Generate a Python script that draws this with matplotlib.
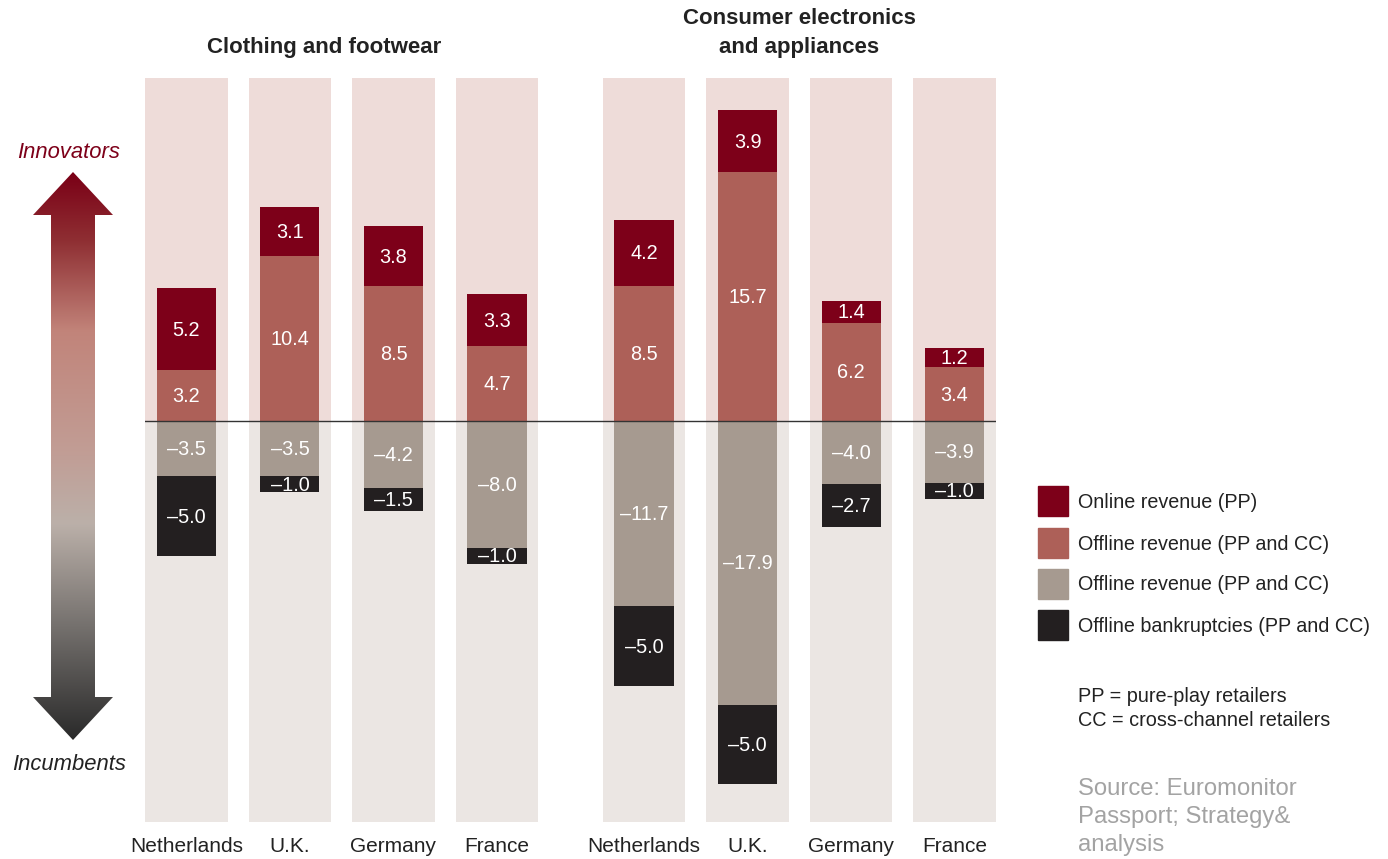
import matplotlib
matplotlib.use("Agg")
import matplotlib.pyplot as plt
import numpy as np
from matplotlib.colors import LinearSegmentedColormap
from matplotlib.patches import Polygon

plt.rcParams['font.family'] = ['Liberation Sans', 'DejaVu Sans']

# ---------------- data ----------------
groups = ["Clothing and footwear", "Consumer electronics\nand appliances"]
countries = ["Netherlands", "U.K.", "Germany", "France",
             "Netherlands", "U.K.", "Germany", "France"]
online_pp = [5.2, 3.1, 3.8, 3.3, 4.2, 3.9, 1.4, 1.2]
offline_pos = [3.2, 10.4, 8.5, 4.7, 8.5, 15.7, 6.2, 3.4]
offline_neg = [-3.5, -3.5, -4.2, -8.0, -11.7, -17.9, -4.0, -3.9]
bankruptcies = [-5.0, -1.0, -1.5, -1.0, -5.0, -5.0, -2.7, -1.0]
legend_labels = ["Online revenue (PP)", "Offline revenue (PP and CC)",
                 "Offline revenue (PP and CC)", "Offline bankruptcies (PP and CC)"]

# ---------------- style ----------------
C_ONLINE = "#7d0019"
C_OFFPOS = "#ad6058"
C_OFFNEG = "#a69a90"
C_BANK = "#231f20"
BG_TOP = "#eedcd9"
BG_BOT = "#ebe6e3"
TXT = "#222222"

W, H = 1388, 859
fig = plt.figure(figsize=(W / 100, H / 100), dpi=100)

x = [0, 1, 2, 3, 4.42, 5.42, 6.42, 7.42]
Y_TOP, Y_BOT = 21.64, -25.3
X_MIN, X_MAX = -0.4, 7.82

ax = fig.add_axes([145 / W, (H - 822) / H, 851 / W, 744 / H])
ax.set_xlim(X_MIN, X_MAX)
ax.set_ylim(Y_BOT, Y_TOP)
ax.axis("off")

col_w = 0.80
bar_w = 0.57
for xi in x:
    ax.bar(xi, Y_TOP, width=col_w, bottom=0, color=BG_TOP, zorder=0)
    ax.bar(xi, Y_BOT, width=col_w, bottom=0, color=BG_BOT, zorder=0)

def seg(vals, bottoms, color):
    ax.bar(x, vals, width=bar_w, bottom=bottoms, color=color, zorder=2)
    for xi, v, b in zip(x, vals, bottoms):
        lab = f"{v:.1f}".replace("-", "\u2013")
        ax.text(xi, b + v / 2 - 0.06, lab, ha="center", va="center",
                color="white", fontsize=14.3, zorder=3)

seg(offline_pos, [0] * 8, C_OFFPOS)
seg(online_pp, offline_pos, C_ONLINE)
seg(offline_neg, [0] * 8, C_OFFNEG)
seg(bankruptcies, offline_neg, C_BANK)

ax.plot([X_MIN, X_MAX], [0, 0], color="#333333", lw=1.0, zorder=4)

# ---------------- overlay in pixel coordinates ----------------
ov = fig.add_axes([0, 0, 1, 1], zorder=-1)
ov.set_xlim(0, W)
ov.set_ylim(H, 0)
ov.axis("off")

# country labels
for xi, c in zip(x, countries):
    ax.text(xi, Y_BOT - 1.55, c, ha="center", va="center", fontsize=15,
            color=TXT, clip_on=False)

# group titles
ov.text(324, 47, groups[0], ha="center", va="center",
        fontsize=16, fontweight="bold", color=TXT)
ov.text(799, 33, groups[1], ha="center", va="center",
        fontsize=16, fontweight="bold", color=TXT, linespacing=1.45)

cx = 73
poly = [(cx, 172), (113, 215), (95, 215), (95, 697), (113, 697), (cx, 740),
        (33, 697), (51, 697), (51, 215), (33, 215)]
cmap = LinearSegmentedColormap.from_list("arr", [
    (0.0, "#7a0016"), (0.12, "#8f2f33"), (0.28, "#c2847a"),
    (0.5, "#c19e96"), (0.62, "#bbb0a9"), (0.8, "#75716e"), (1.0, "#2a2a2a")])
grad = np.linspace(0, 1, 256).reshape(-1, 1)
im = ov.imshow(grad, cmap=cmap, extent=[33, 113, 740, 172], aspect="auto",
               interpolation="bilinear")
patch = Polygon(poly, closed=True, transform=ov.transData, facecolor="none",
                edgecolor="none")
ov.add_patch(patch)
im.set_clip_path(patch)

ov.text(69, 153, "Innovators", ha="center", va="center", fontsize=15.8,
        style="italic", color="#7d0019")
ov.text(69, 765, "Incumbents", ha="center", va="center", fontsize=15.8,
        style="italic", color=TXT)

# legend
leg_colors = [C_ONLINE, C_OFFPOS, C_OFFNEG, C_BANK]
leg_y = [501, 543, 584, 625]
for col, yy, lab in zip(leg_colors, leg_y, legend_labels):
    ov.add_patch(plt.Rectangle((1038, yy - 15), 30, 30, color=col))
    ov.text(1078, yy + 1, lab, ha="left", va="center", fontsize=14.2, color=TXT)

ov.text(1078, 696, "PP = pure-play retailers", ha="left", va="center",
        fontsize=14.3, color=TXT)
ov.text(1078, 720, "CC = cross-channel retailers", ha="left", va="center",
        fontsize=14.3, color=TXT)
ov.text(1078, 817, "Source: Euromonitor\nPassport; Strategy&\nanalysis",
        ha="left", va="center", fontsize=17.2, color="#a3a3a3",
        linespacing=1.38)

fig.savefig("out.png", dpi=100)
